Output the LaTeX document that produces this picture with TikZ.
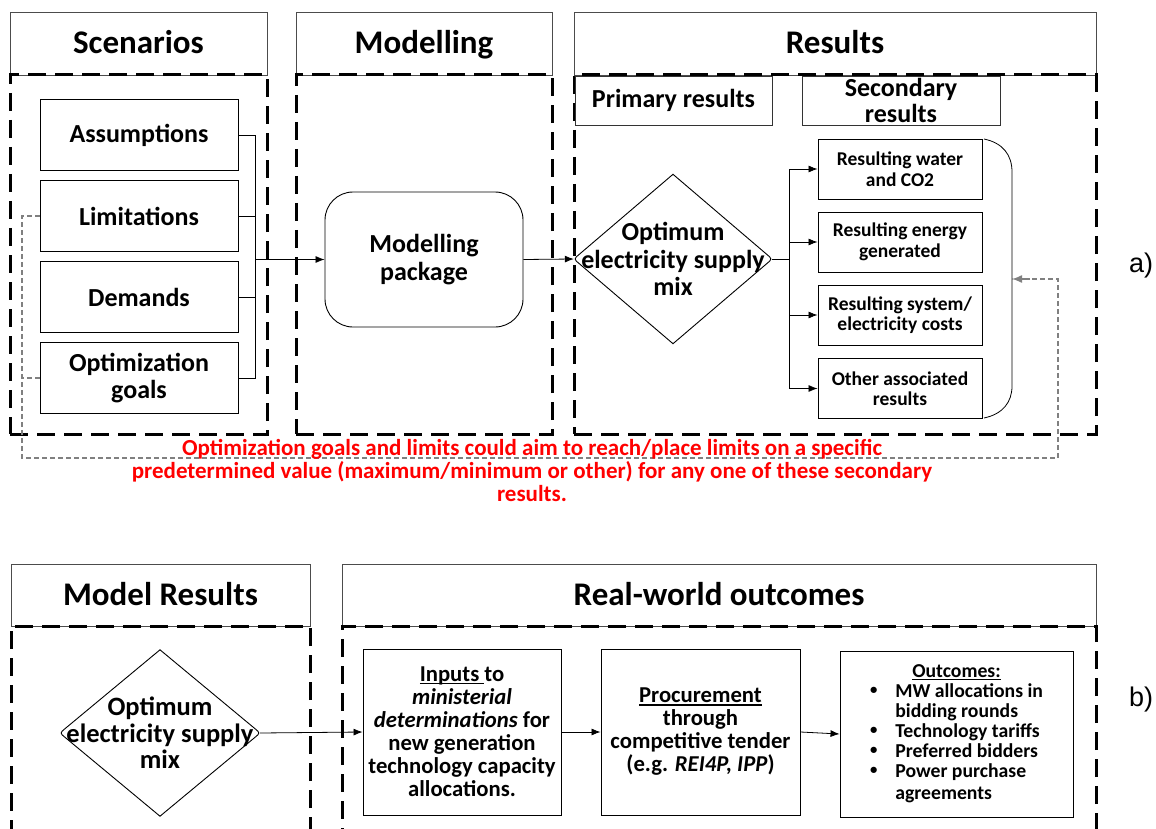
\documentclass[tikz,border=0pt]{standalone}
\usepackage{fontspec}
\setmainfont{Carlito}
\newfontfamily\arialf{Liberation Sans}
\usetikzlibrary{arrows.meta,calc}
\newcommand{\fs}[2]{\fontsize{#1}{#2}\selectfont\bfseries}
\newcommand{\smbul}{\raisebox{0.12em}{\scalebox{0.75}{\textbullet}}}
\newcommand{\myul}[1]{\setbox0\hbox{#1}\rlap{\rule[-2.6pt]{\wd0}{1.1pt}}\box0}
\begin{document}
\begin{tikzpicture}[x=1pt,y=-1pt,
  hdr/.style={draw=black!70,line width=0.8pt,inner sep=0pt,text height=21pt,text depth=0pt,font=\fs{33}{36}},
  grp/.style={draw=black,line width=3pt,dash pattern=on 18pt off 9pt,inner sep=0pt},
  box/.style={draw=black,line width=0.9pt,inner sep=0pt,align=center},
  arr/.style={-{Latex[length=9pt,width=7pt]},line width=0.8pt},
  ln/.style={line width=0.8pt},
  fb/.style={draw=black!50,line width=1.3pt,dash pattern=on 5pt off 3pt},
  lab/.style={font=\arialf\fontsize{27}{30}\selectfont}]
\useasboundingbox (0,0) rectangle (1156,829);
\clip (0,0) rectangle (1156,829);
% ---------- part a ----------
\node[hdr,minimum width=257,minimum height=63] (hS) at (138.5,43.5) {Scenarios};
\node[hdr,minimum width=256,minimum height=63] (hM) at (424,43.5) {Modelling};
\node[hdr,minimum width=522,minimum height=63] (hR) at (835,43.5) {Results};
\node[grp,minimum width=257,minimum height=359] (gS) at (138.5,254.5) {};
\node[grp,minimum width=256,minimum height=359] (gM) at (424,254.5) {};
\node[grp,minimum width=522,minimum height=359] (gR) at (835,254.5) {};
\node[box,draw=black!80,minimum width=197,minimum height=49,font=\fs{26}{26}] (prim) at (673.5,100.5) {Primary results};
\node[box,draw=black!80,minimum width=198,minimum height=49,font=\fs{26}{26}] (sec) at (901,100.5) {Secondary\\results};
\node[box,minimum width=198,minimum height=71,font=\fs{26}{27}] (ass) at (139,135) {Assumptions};
\node[box,minimum width=198,minimum height=71,font=\fs{26}{27}] (lim) at (139,216) {Limitations};
\node[box,minimum width=198,minimum height=71,font=\fs{26}{27}] (dem) at (139,297) {Demands};
\node[box,minimum width=198,minimum height=71,font=\fs{26}{27}] (opt) at (139,378) {Optimization\\goals};
\node[box,rounded corners=28pt,minimum width=198,minimum height=135,font=\fs{26}{28}] (pkg) at (424,259.5) {Modelling\\package};
\node[inner sep=0pt,minimum width=198,minimum height=169,align=center,font=\fs{26}{27.5}] (dA) at (673,259) {Optimum\\electricity supply\\mix};
\draw[line width=0.9pt] (dA.north) -- ($(dA.west)!7pt!(dA.north)$) .. controls (dA.west) .. ($(dA.west)!7pt!(dA.south)$) -- (dA.south) -- ($(dA.east)!7pt!(dA.south)$) .. controls (dA.east) .. ($(dA.east)!7pt!(dA.north)$) -- cycle;
\node[box,minimum width=164,minimum height=60,font=\fs{19.5}{20.5}] (r1) at (900,169) {Resulting water\\and CO2};
\node[box,minimum width=164,minimum height=60,font=\fs{19.5}{20.5}] (r2) at (900,242) {Resulting energy\\generated};
\node[box,minimum width=164,minimum height=60,font=\fs{19.5}{20.5}] (r3) at (900,315) {Resulting system/\\electricity costs};
\node[box,minimum width=164,minimum height=60,font=\fs{19.5}{20.5}] (r4) at (900,388.5) {Other associated\\results};
% connectors
\coordinate (bus) at (255,259.5);
\draw[ln] (ass.east) -| (bus);
\draw[ln] (lim.east) -| (bus);
\draw[ln] (dem.east) -| (bus);
\draw[ln] (opt.east) -| (bus);
\draw[arr] (bus) -- (pkg.west);
\draw[arr] (pkg.east) -- (dA.west);
\coordinate (rbus) at (789,259);
\draw[ln] (dA.east) -- (rbus);
\draw[arr] (rbus) |- (r1.west);
\draw[arr] (rbus) |- (r2.west);
\draw[arr] (rbus) |- (r3.west);
\draw[arr] (rbus) |- (r4.west);
% bracket
\coordinate (brT) at (984,139);
\coordinate (brB) at (984,418);
\coordinate (brM) at (1012,279);
\draw[ln] (brT) .. controls (1003,143) and (1012,155) .. (1012,172) -- (1012,386) .. controls (1012,402) and (1003,414) .. (brB);
% feedback
\coordinate (f1) at (22,216);
\coordinate (f2) at (22,458);
\coordinate (f3) at (1058,458);
\coordinate (f4) at (1058,279);
\coordinate (f5) at (22,378);
\draw[fb] (lim.west) -- (f1) -- (f2) -- (f3) -- (f4) -- (brM);
\draw[fb] (opt.west) -- (f5);
\draw[draw=black!50,-{Latex[length=10pt,width=8pt]},line width=1.3pt] (1030,279) -- (brM);
\node[text=red,align=center,font=\fs{23}{23}] (note) at (532,470) {Optimization goals and limits could aim to reach/place limits on a specific\\predetermined value (maximum/minimum or other) for any one of these secondary\\results.};
\node[lab] (la) at (1141,266) {a)};
% ---------- part b ----------
\node[hdr,minimum width=299,minimum height=62] (hMR) at (160.5,595) {Model Results};
\node[hdr,minimum width=754,minimum height=62] (hRW) at (719,595) {Real-world outcomes};
\node[grp,minimum width=299,minimum height=234] (gMR) at (160.5,743) {};
\node[grp,minimum width=754,minimum height=234] (gRW) at (719,743) {};
\node[inner sep=0pt,minimum width=200,minimum height=166,align=center,font=\fs{26.5}{26.5}] (dB) at (160,733) {Optimum\\electricity supply\\mix};
\draw[line width=0.9pt] (dB.north) -- ($(dB.west)!7pt!(dB.north)$) .. controls (dB.west) .. ($(dB.west)!7pt!(dB.south)$) -- (dB.south) -- ($(dB.east)!7pt!(dB.south)$) .. controls (dB.east) .. ($(dB.east)!7pt!(dB.north)$) -- cycle;
\node[box,minimum width=198,minimum height=166,font=\fs{22.7}{23}] (inp) at (462,732) {\myul{Inputs\ }to\\\textit{ministerial}\\\textit{determinations} for\\new generation\\technology capacity\\allocations.};
\node[box,minimum width=199,minimum height=166,font=\fs{22.7}{23}] (proc) at (700.5,732) {\myul{Procurement}\\through\\competitive tender\\(e.g. \textit{REI4P, IPP})};
\node[box,minimum width=233,minimum height=166,font=\fs{19.7}{20}] (outc) at (956.5,734) {%
\begin{tabular}{@{}c@{\hspace{18pt}}l@{}}
\multicolumn{2}{c}{\myul{Outcomes:}}\\
\smbul & MW allocations in\\
 & bidding rounds\\
\smbul & Technology tariffs\\
\smbul & Preferred bidders\\
\smbul & Power purchase\\[2pt]
 & agreements
\end{tabular}};
\draw[arr] (dB.east) -- (inp.west);
\draw[arr] (inp.east) -- (proc.west);
\draw[arr] (proc.east) -- (outc.west);
\node[lab] (lb) at (1141,700) {b)};
\end{tikzpicture}
\end{document}
